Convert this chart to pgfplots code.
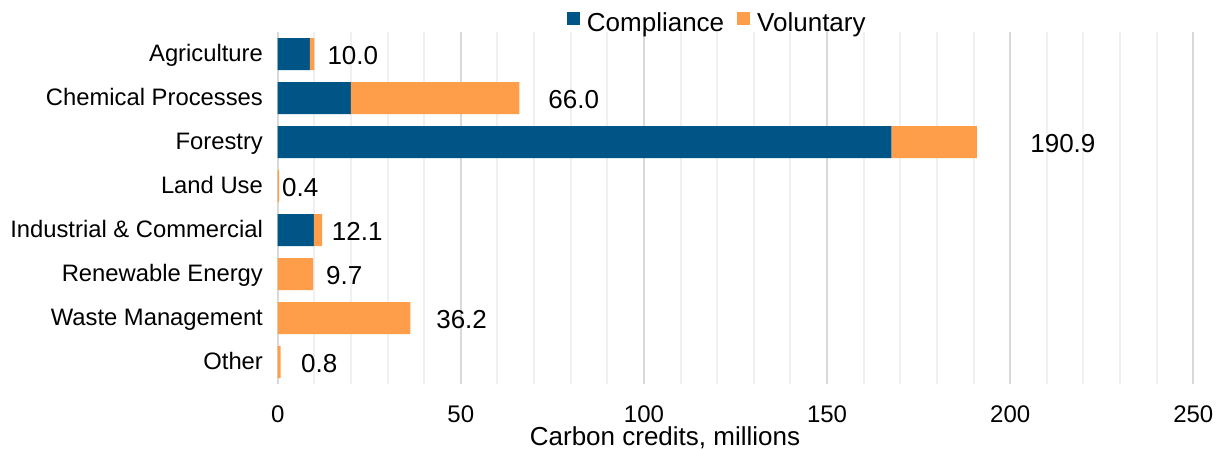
\documentclass[border=0pt]{standalone}
\usepackage{pgfplots}
\pgfplotsset{compat=1.18}
\usepackage{fontspec}
\setmainfont{Liberation Sans}
\definecolor{compl}{RGB}{0,85,135}
\definecolor{volun}{RGB}{255,158,74}
\definecolor{majgrid}{RGB}{217,217,217}
\definecolor{mingrid}{RGB}{240,240,240}
\pgfplotsset{sqlegend/.style={legend image code/.code={\fill[##1] (0pt,-0.5pt) rectangle (6.5pt,6pt); \path (10pt,0pt);}}}
\begin{document}
\begin{tikzpicture}
\useasboundingbox (-138.85pt,-32.5pt) rectangle (473.15pt,192pt);
\begin{axis}[
  at={(0,0)}, anchor=south west,
  scale only axis,
  width=457.8pt, height=176pt,
  xmin=0, xmax=250,
  ymin=-0.5, ymax=7.5,
  y dir=reverse,
  xtick={0,50,100,150,200,250},
  minor x tick num=4,
  xmajorgrids, xminorgrids,
  major grid style={draw=majgrid, line width=1pt},
  minor grid style={draw=mingrid, line width=1pt},
  ytick={0,1,2,3,4,5,6,7},
  yticklabels={Agriculture, Chemical Processes, Forestry, Land Use, Industrial \& Commercial, Renewable Energy, Waste Management, Other},
  axis line style={draw=none},
  major tick style={draw=none},
  minor tick style={draw=none},
  /pgf/number format/assume math mode=true,
  xticklabel style={font=\fontsize{12}{14}\selectfont, anchor=base, inner sep=0pt, yshift=-19pt},
  yticklabel style={font=\fontsize{11.9}{14}\selectfont, anchor=base east, inner sep=0pt, xshift=-7.2pt, yshift=-3.8pt},
  xlabel={Carbon credits, millions},
  xlabel style={font=\fontsize{13}{15}\selectfont, at={(axis description cs:0.423,0)}, anchor=base, inner sep=0pt, yshift=-30.5pt},
  legend columns=2,
  legend style={at={(axis description cs:0.479,1)}, anchor=south, yshift=-1.5pt, draw=none, fill=none,
    font=\fontsize{13}{15}\selectfont, inner sep=0pt,
    nodes={inner sep=0pt},
    /tikz/every even column/.append style={column sep=6.5pt}},
]
\addplot[xbar stacked, bar width=16pt, fill=compl, draw=none, sqlegend] coordinates {
  (8.8,0) (20.0,1) (167.6,2) (0,3) (9.9,4) (0,5) (0,6) (0,7)};
\addlegendentry{Compliance}
\addplot[xbar stacked, bar width=16pt, fill=volun, draw=none, sqlegend] coordinates {
  (1.2,0) (46.0,1) (23.3,2) (0.4,3) (2.2,4) (9.7,5) (36.2,6) (0.8,7)};
\addlegendentry{Voluntary}
\addplot[only marks, mark=*, mark size=0pt, mark options={draw=none, fill=none},
  point meta=explicit symbolic,
  nodes near coords,
  nodes near coords style={anchor=west, inner sep=0pt, yshift=-0.75pt, text=black, font=\fontsize{13}{15}\selectfont},
  forget plot] table[meta=label] {
x y label
13.5 0 10.0
73.8 1 66.0
205.4 2 190.9
1.1 3 0.4
14.7 4 12.1
13.1 5 9.7
43.2 6 36.2
6.3 7 0.8
};
\end{axis}
\end{tikzpicture}
\end{document}
